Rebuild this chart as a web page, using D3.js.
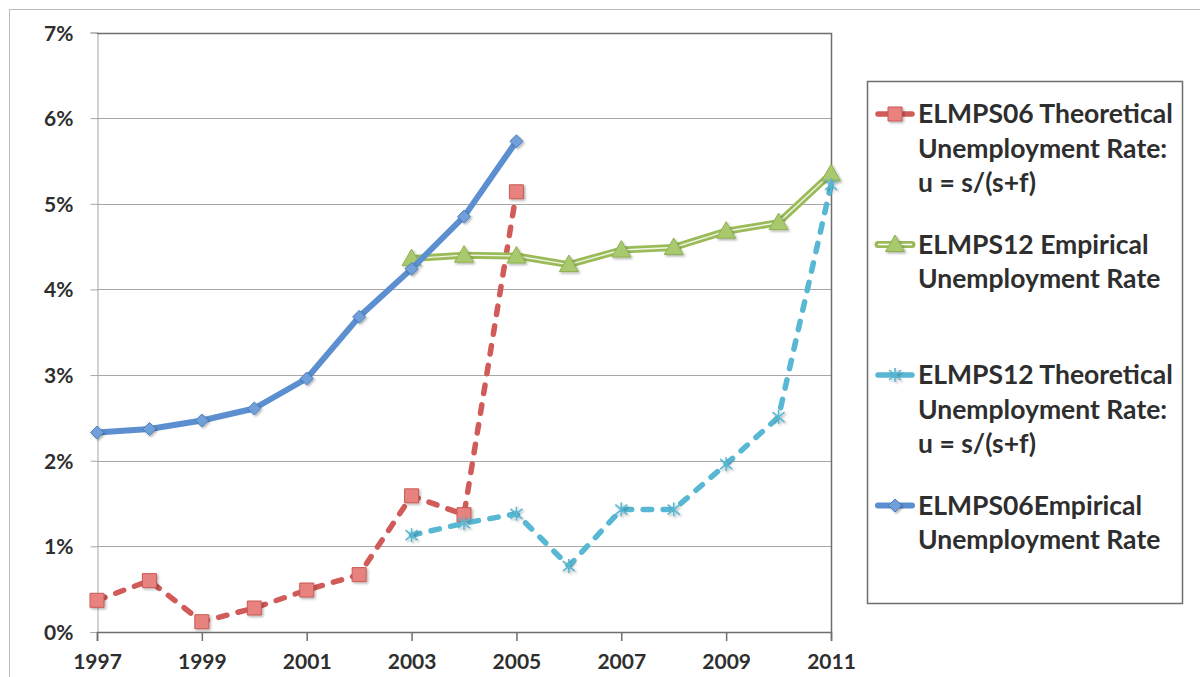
<!DOCTYPE html>
<html>
<head>
<meta charset="utf-8">
<script src="https://cdn.jsdelivr.net/npm/d3@7"></script>
<style>
  body { margin: 0; background: #fff; }
  svg text { font-family: Lato, "Open Sans", sans-serif; font-weight: 700; fill: #2e2e2e; }
</style>
</head>
<body>
<svg id="chart" width="1200" height="677"></svg>
<script>
// years on the category axis
const years = [1997, 1998, 1999, 2000, 2001, 2002, 2003, 2004, 2005, 2006, 2007, 2008, 2009, 2010, 2011];
const tickYears = [1997, 1999, 2001, 2003, 2005, 2007, 2009, 2011];
const yTicks = [0, 0.01, 0.02, 0.03, 0.04, 0.05, 0.06, 0.07];

// values in percent, null = no data
const elmps06Theoretical = [0.37, 0.60, 0.12, 0.28, 0.49, 0.67, 1.59, 1.37, 5.14, null, null, null, null, null, null];
const elmps12Empirical   = [null, null, null, null, null, null, 4.36, 4.40, 4.39, 4.29, 4.46, 4.49, 4.68, 4.78, 5.35];
const elmps12Theoretical = [null, null, null, null, null, null, 1.13, 1.27, 1.38, 0.77, 1.43, 1.43, 1.96, 2.51, 5.22];
const elmps06Empirical   = [2.33, 2.37, 2.47, 2.61, 2.96, 3.68, 4.24, 4.85, 5.73, null, null, null, null, null, null];

const legendLabels = [
	["ELMPS06 Theoretical", "Unemployment Rate:", "u = s/(s+f)"],
	["ELMPS12 Empirical", "Unemployment Rate"],
	["ELMPS12 Theoretical", "Unemployment Rate:", "u = s/(s+f)"],
	["ELMPS06Empirical", "Unemployment Rate"]
];

const series = [
	{ values: elmps06Theoretical, color: "#d05b58", fill: "#e8827f", stroke: "#c85a57", marker: "square", dash: "8.5 11.5", width: 5.5 },
	{ values: elmps12Empirical, color: "#9bbb59", fill: "#a9c96e", stroke: "#8fb04f", marker: "triangle", dash: null, width: 7, double: true },
	{ values: elmps12Theoretical, color: "#58b7d3", fill: "#58b7d3", stroke: "#58b7d3", marker: "star", dash: "8.5 11.5", width: 5.5 },
	{ values: elmps06Empirical, color: "#5b8fcf", fill: "#6f9fd9", stroke: "#4f81bd", marker: "diamond", dash: null, width: 6 }
];

const svg = d3.select("#chart");

const defs = svg.append("defs");
defs.append("filter").attr("id", "shadow")
	.attr("x", "-50%").attr("y", "-50%").attr("width", "200%").attr("height", "200%")
	.append("feDropShadow")
	.attr("dx", 1.5).attr("dy", 1.5).attr("stdDeviation", 1)
	.attr("flood-color", "#000").attr("flood-opacity", 0.3);

// outer chart border
svg.append("rect")
	.attr("x", 9.5).attr("y", 9.5)
	.attr("width", 1300).attr("height", 800)
	.attr("fill", "none").attr("stroke", "#bdbdbd");

const x = d3.scaleLinear().domain([1997, 2011]).range([97, 831]);
const y = d3.scaleLinear().domain([0, 0.07]).range([632, 32.5]);

// gridlines
svg.append("g")
	.selectAll("line")
	.data(yTicks.slice(1, -1))
	.join("line")
	.attr("x1", 97).attr("x2", 831)
	.attr("y1", d => Math.round(y(d)) + 0.5).attr("y2", d => Math.round(y(d)) + 0.5)
	.attr("stroke", "#a6a6a6");

// y axis
const yAxis = svg.append("g")
	.attr("transform", "translate(97.5,0)")
	.call(d3.axisLeft(y).tickValues(yTicks).tickFormat(d3.format(".0%")).tickSize(7).tickPadding(17));
yAxis.select(".domain").attr("stroke", "#a6a6a6");
yAxis.selectAll(".tick line").attr("stroke", "#a6a6a6");
yAxis.selectAll(".tick text").style("font-size", "21px").attr("fill", "#2e2e2e").attr("dy", "0.36em");

// plot border top and right
svg.append("path")
	.attr("d", `M97,${Math.round(y(0.07)) + 0.5}H831.5V632`)
	.attr("fill", "none").attr("stroke", "#6e6e6e").attr("stroke-width", 1.5);

// x axis
const xAxis = svg.append("g")
	.attr("transform", "translate(0,632)")
	.call(d3.axisBottom(x).tickValues(tickYears).tickFormat(d3.format("d")).tickSize(9).tickPadding(13));
xAxis.select(".domain").attr("stroke", "#6e6e6e").attr("stroke-width", 1.5);
xAxis.selectAll(".tick line").attr("stroke", "#6e6e6e").attr("stroke-width", 1.5);
xAxis.selectAll(".tick text").style("font-size", "21px").attr("fill", "#2e2e2e");

function markerPath(type) {
	if (type === "square") return "M-7,-7H7V7H-7Z";
	if (type === "triangle") return "M0,-9.5L9.5,7H-9.5Z";
	if (type === "diamond") return "M0,-6.5L6.5,0L0,6.5L-6.5,0Z";
	return "M-6,-5L6,5M-6,5L6,-5M0,-7V7";
}

function drawMarker(g, s, cx, cy) {
	const m = g.append("path")
		.attr("d", markerPath(s.marker))
		.attr("transform", `translate(${cx},${cy})`)
		.attr("filter", "url(#shadow)");
	if (s.marker === "star") {
		m.attr("fill", "none").attr("stroke", s.stroke).attr("stroke-width", 1.6);
	} else {
		m.attr("fill", s.fill).attr("stroke", s.stroke).attr("stroke-width", 1);
	}
}

const line = d3.line()
	.defined(d => d.v !== null)
	.x(d => x(d.year))
	.y(d => y(d.v / 100));

series.forEach(s => {
	const pts = years.map((year, i) => ({ year, v: s.values[i] }));
	const g = svg.append("g");
	g.append("path")
		.datum(pts)
		.attr("d", line)
		.attr("fill", "none")
		.attr("stroke", s.color)
		.attr("stroke-width", s.width)
		.attr("stroke-linecap", "round")
		.attr("stroke-linejoin", "round")
		.attr("stroke-dasharray", s.dash);
	if (s.double) {
		g.append("path")
			.datum(pts)
			.attr("d", line)
			.attr("fill", "none")
			.attr("stroke", "#fff")
			.attr("stroke-width", 1.4)
			.attr("stroke-opacity", 0.85);
	}
	pts.filter(d => d.v !== null).forEach(d => drawMarker(g, s, x(d.year), y(d.v / 100)));
});

// legend
svg.append("rect")
	.attr("x", 867.5).attr("y", 81.5)
	.attr("width", 315).attr("height", 522)
	.attr("fill", "#fff").attr("stroke", "#6e6e6e").attr("stroke-width", 1.5);

const legendTop = 114;
const legendStep = 130.5;
const lineStep = 34.5;

series.forEach((s, i) => {
	const cy = legendTop + i * legendStep;
	const g = svg.append("g");
	g.append("line")
		.attr("x1", 878).attr("x2", 912)
		.attr("y1", cy).attr("y2", cy)
		.attr("stroke", s.color)
		.attr("stroke-width", s.width)
		.attr("stroke-linecap", "round");
	if (s.double) {
		g.append("line")
			.attr("x1", 878).attr("x2", 912)
			.attr("y1", cy).attr("y2", cy)
			.attr("stroke", "#fff").attr("stroke-width", 1.4);
	}
	drawMarker(g, s, 895, cy);
	legendLabels[i].forEach((t, j) => {
		g.append("text")
			.attr("x", 918)
			.attr("y", cy + j * lineStep)
			.attr("dy", "0.35em")
			.style("font-size", "26.5px")
			.text(t);
	});
});
</script>
</body>
</html>
